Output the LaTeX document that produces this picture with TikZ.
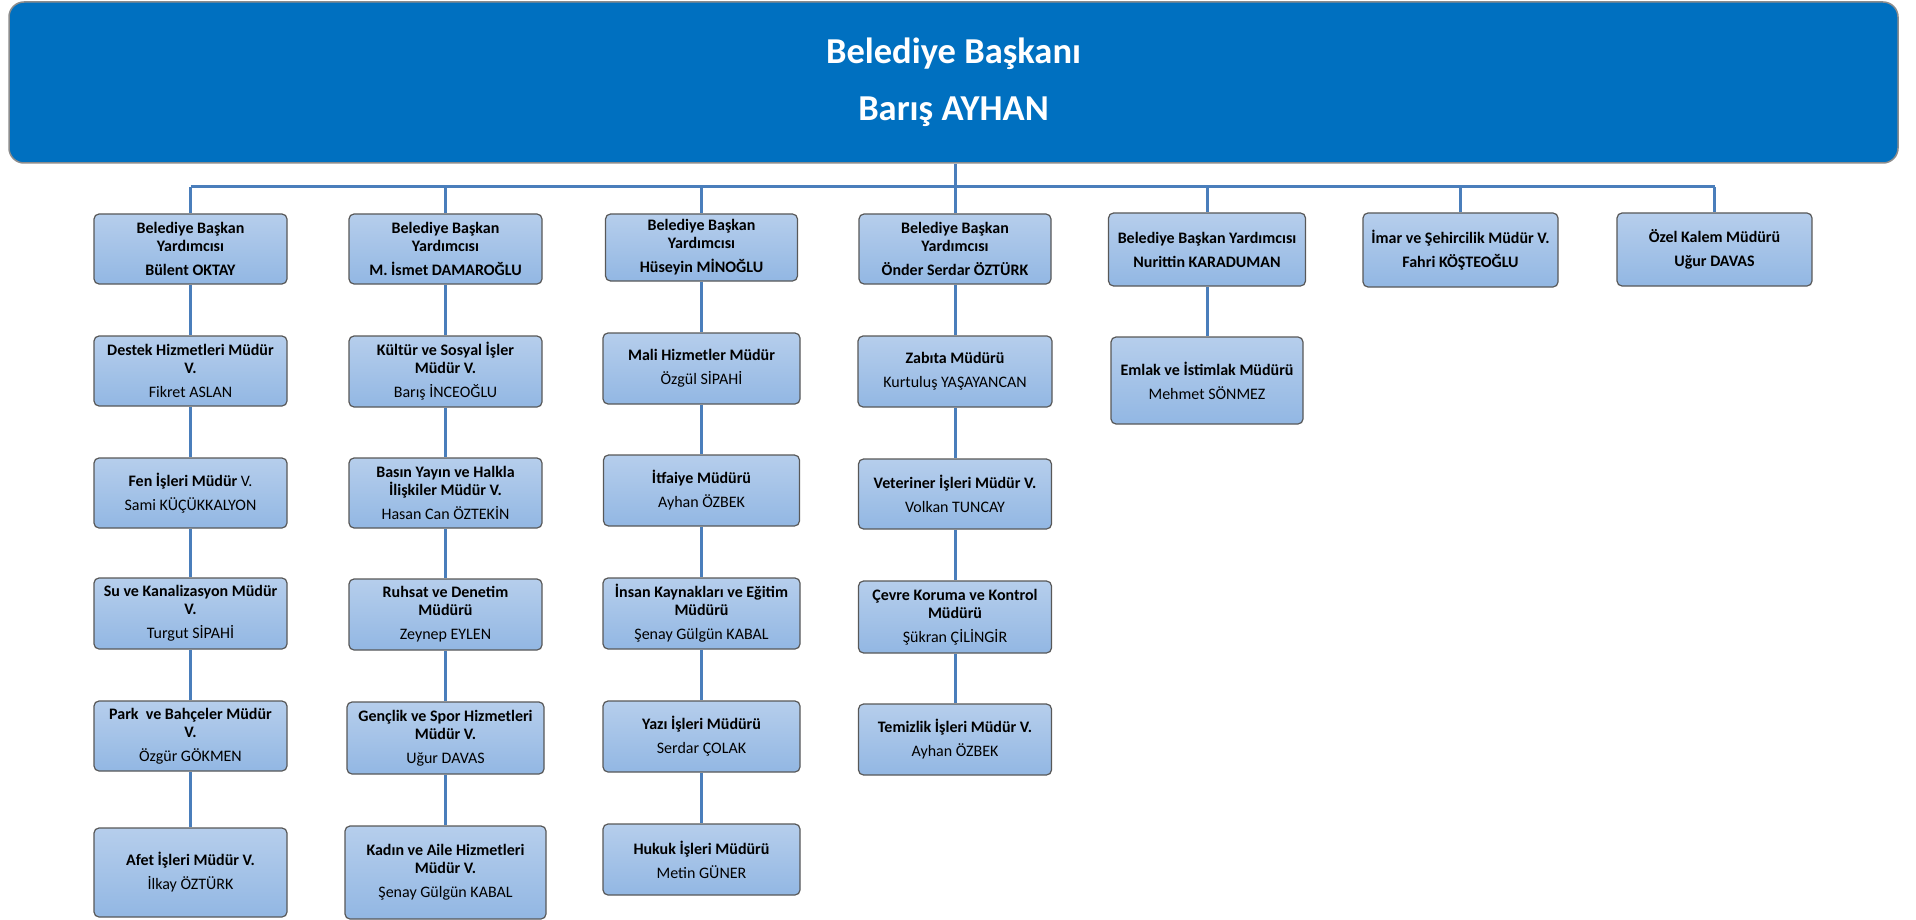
\documentclass[tikz,border=0pt]{standalone}
\usepackage{fontspec}
\setmainfont{Carlito}
\newfontfamily\calfont{Carlito}
\definecolor{topfill}{RGB}{0,112,192}
\definecolor{topborder}{RGB}{140,140,140}
\definecolor{boxtop}{RGB}{182,206,236}
\definecolor{boxbot}{RGB}{146,183,227}
\definecolor{boxborder}{RGB}{88,88,88}
\definecolor{connc}{RGB}{74,126,187}
\newcommand\bxfont{\calfont\fontsize{16}{18}\selectfont}
\newcommand\topfont{\calfont\fontsize{36.5}{57}\selectfont}
\tikzset{
  ob/.style={draw=boxborder, line width=1.2pt, rounded corners=5pt,
    top color=boxtop, bottom color=boxbot, align=center, font=\bxfont,
    inner sep=0pt, text=black},
  topbox/.style={draw=topborder, line width=1.5pt, rounded corners=15pt,
    fill=topfill, align=center, font=\topfont, text=white, inner sep=0pt},
  conn/.style={draw=connc, line width=3pt},
}
\newcommand\obox[6]{\node[ob, minimum width=#4pt, minimum height=#5pt] (#1) at (#2,#3) {#6};}
\begin{document}
\begin{tikzpicture}[x=1pt,y=-1pt]
\useasboundingbox (0,0) rectangle (1916,920);
\node[topbox, minimum width=1889pt, minimum height=161pt] (top) at (953.5,82.5)
  {\textbf{Belediye Başkanı}\\\textbf{Barış AYHAN}};
% column 1
\obox{c1r1}{190.5}{249}{193}{70}{\textbf{Belediye Başkan}\\\textbf{Yardımcısı}\\[6pt]\textbf{Bülent OKTAY}}
\obox{c1r2}{190.5}{371}{193}{70}{\textbf{Destek Hizmetleri Müdür}\\\textbf{V.}\\[6pt]Fikret ASLAN}
\obox{c1r3}{190.5}{493}{193}{70}{\textbf{Fen İşleri Müdür} V.\\[6pt]Sami KÜÇÜKKALYON}
\obox{c1r4}{190.5}{613.5}{193}{71}{\textbf{Su ve Kanalizasyon Müdür}\\\textbf{V.}\\[6pt]Turgut SİPAHİ}
\obox{c1r5}{190.5}{736}{193}{70}{\textbf{Park\ \ ve Bahçeler Müdür}\\\textbf{V.}\\[6pt]Özgür GÖKMEN}
\obox{c1r6}{190.5}{872.5}{193}{89}{\textbf{Afet İşleri Müdür V.}\\[6pt]İlkay ÖZTÜRK}
% column 2
\obox{c2r1}{445.5}{249}{193}{70}{\textbf{Belediye Başkan}\\\textbf{Yardımcısı}\\[6pt]\textbf{M. İsmet DAMAROĞLU}}
\obox{c2r2}{445.5}{371.5}{193}{71}{\textbf{Kültür ve Sosyal İşler}\\\textbf{Müdür V.}\\[6pt]Barış İNCEOĞLU}
\obox{c2r3}{445.5}{493}{193}{70}{\textbf{Basın Yayın ve Halkla}\\\textbf{İlişkiler Müdür V.}\\[6pt]Hasan Can ÖZTEKİN}
\obox{c2r4}{445.5}{614.5}{193}{71}{\textbf{Ruhsat ve Denetim}\\\textbf{Müdürü}\\[6pt]Zeynep EYLEN}
\obox{c2r5}{445.5}{738}{197}{72}{\textbf{Gençlik ve Spor Hizmetleri}\\\textbf{Müdür V.}\\[6pt]Uğur DAVAS}
\obox{c2r6}{445.5}{872.5}{201}{93}{\textbf{Kadın ve Aile Hizmetleri}\\\textbf{Müdür V.}\\[6pt]Şenay Gülgün KABAL}
% column 3
\obox{c3r1}{701.5}{247.5}{192}{67}{\textbf{Belediye Başkan}\\\textbf{Yardımcısı}\\[6pt]\textbf{Hüseyin MİNOĞLU}}
\obox{c3r2}{701.5}{368.5}{197}{71}{\textbf{Mali Hizmetler Müdür}\\[6pt]Özgül SİPAHİ}
\obox{c3r3}{701.5}{490.5}{196}{71}{\textbf{İtfaiye Müdürü}\\[6pt]Ayhan ÖZBEK}
\obox{c3r4}{701.5}{613.5}{197}{71}{\textbf{İnsan Kaynakları ve Eğitim}\\\textbf{Müdürü}\\[6pt]Şenay Gülgün KABAL}
\obox{c3r5}{701.5}{736.5}{197}{71}{\textbf{Yazı İşleri Müdürü}\\[6pt]Serdar ÇOLAK}
\obox{c3r6}{701.5}{859.5}{197}{71}{\textbf{Hukuk İşleri Müdürü}\\[6pt]Metin GÜNER}
% column 4
\obox{c4r1}{955}{249}{192}{70}{\textbf{Belediye Başkan}\\\textbf{Yardımcısı}\\[6pt]\textbf{Önder Serdar ÖZTÜRK}}
\obox{c4r2}{955}{371.5}{194}{71}{\textbf{Zabıta Müdürü}\\[6pt]Kurtuluş YAŞAYANCAN}
\obox{c4r3}{955}{494}{193}{70}{\textbf{Veteriner İşleri Müdür V.}\\[6pt]Volkan TUNCAY}
\obox{c4r4}{955}{617}{193}{72}{\textbf{Çevre Koruma ve Kontrol}\\\textbf{Müdürü}\\[6pt]Şükran ÇİLİNGİR}
\obox{c4r5}{955}{739.5}{193}{71}{\textbf{Temizlik İşleri Müdür V.}\\[6pt]Ayhan ÖZBEK}
% column 5
\obox{c5r1}{1207}{249.5}{197}{73}{\textbf{Belediye Başkan Yardımcısı}\\[6pt]\textbf{Nurittin KARADUMAN}}
\obox{c5r2}{1207}{380.5}{192}{87}{\textbf{Emlak ve İstimlak Müdürü}\\[6pt]Mehmet SÖNMEZ}
% column 6, 7
\obox{c6r1}{1460.5}{250}{195}{74}{\textbf{İmar ve Şehircilik Müdür V.}\\[6pt]\textbf{Fahri KÖŞTEOĞLU}}
\obox{c7r1}{1714.5}{249.5}{195}{73}{\textbf{Özel Kalem Müdürü}\\[6pt]\textbf{Uğur DAVAS}}
% connectors
\coordinate (busy) at (0,187);
\draw[conn] (top.south -| c4r1.north) -- (c4r1.north |- busy);
\draw[conn] (c1r1.north |- busy) -- (c7r1.north |- busy);
\foreach \c in {c1r1,c2r1,c3r1,c4r1,c5r1,c6r1,c7r1}{
  \draw[conn] (\c.north |- busy) -- (\c.north);
}
\foreach \a/\b in {c1r1/c1r2,c1r2/c1r3,c1r3/c1r4,c1r4/c1r5,c1r5/c1r6,
                   c2r1/c2r2,c2r2/c2r3,c2r3/c2r4,c2r4/c2r5,c2r5/c2r6,
                   c3r1/c3r2,c3r2/c3r3,c3r3/c3r4,c3r4/c3r5,c3r5/c3r6,
                   c4r1/c4r2,c4r2/c4r3,c4r3/c4r4,c4r4/c4r5,
                   c5r1/c5r2}{
  \draw[conn] (\a.south) -- (\b.north);
}
\end{tikzpicture}
\end{document}
